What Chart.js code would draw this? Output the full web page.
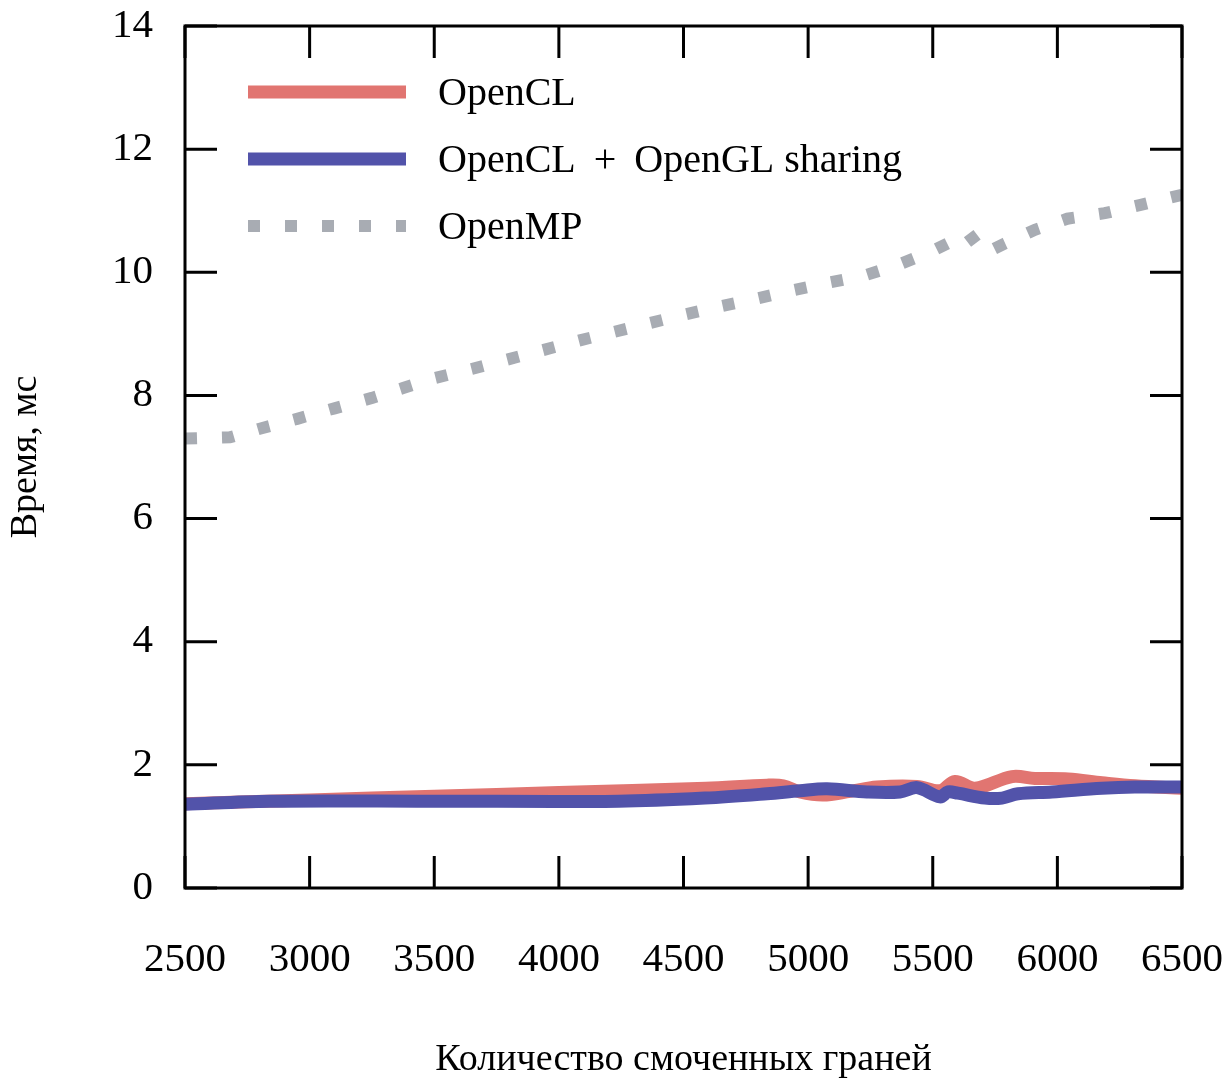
<!DOCTYPE html>
<html>
<head>
<meta charset="utf-8">
<script src="https://cdn.jsdelivr.net/npm/chart.js@4.4.1/dist/chart.umd.min.js"></script>
<style>
  html, body { margin: 0; padding: 0; background: #fff; }
  #wrap { width: 1229px; height: 1082px; }
</style>
</head>
<body>
<div id="wrap"><canvas id="timeChart" width="1229" height="1082"></canvas></div>
<script>
// series names
const seriesNames = ['OpenCL', 'OpenCL + OpenGL sharing', 'OpenMP'];

// OpenCL
const clX = [2500, 3000, 3500, 4000, 4590, 4835, 4900, 4967, 5060, 5168, 5276, 5437, 5530, 5589, 5670, 5818, 5910, 6043, 6179, 6311, 6500];
const clY = [1.37, 1.43, 1.49, 1.55, 1.62, 1.67, 1.66, 1.56, 1.51, 1.57, 1.64, 1.65, 1.58, 1.73, 1.62, 1.81, 1.78, 1.77, 1.71, 1.66, 1.62];

// OpenCL + OpenGL sharing
const shX = [2500, 2840, 3500, 4240, 4586, 4835, 4967, 5076, 5236, 5369, 5437, 5529, 5561, 5601, 5710, 5778, 5842, 5978, 6179, 6311, 6500];
const shY = [1.36, 1.41, 1.41, 1.41, 1.46, 1.53, 1.58, 1.61, 1.56, 1.56, 1.63, 1.48, 1.56, 1.54, 1.46, 1.46, 1.53, 1.56, 1.62, 1.64, 1.64];

// OpenMP
const mpX = [2500, 2680, 2800, 2950, 3100, 3250, 3375, 3500, 3650, 3800, 3940, 4080, 4220, 4360, 4500, 4650, 4800, 4940, 5080, 5220, 5360, 5490, 5600, 5640, 5705, 5790, 5910, 6040, 6190, 6330, 6500];
const mpY = [7.30, 7.32, 7.46, 7.62, 7.79, 7.96, 8.12, 8.28, 8.43, 8.59, 8.74, 8.89, 9.03, 9.17, 9.31, 9.45, 9.58, 9.71, 9.83, 9.94, 10.12, 10.33, 10.55, 10.65, 10.30, 10.47, 10.69, 10.87, 10.96, 11.09, 11.26];

const xTicks = [2500, 3000, 3500, 4000, 4500, 5000, 5500, 6000, 6500];
const yTicks = [0, 2, 4, 6, 8, 10, 12, 14];

const xTitle = 'Количество смоченных граней';
const yTitle = 'Время, мс';

const toPoints = (xs, ys) => xs.map((x, i) => ({ x: x, y: ys[i] }));

const FONT = '"Liberation Serif", "DejaVu Serif", serif';

// inward ticks on all four sides + frame + legend inside the plot
const frameTicks = {
    id: 'frameTicks',
    afterDraw(chart) {
        const ctx = chart.ctx;
        const { left, right, top, bottom } = chart.chartArea;
        const xs = chart.scales.x, ys = chart.scales.y;
        const len = 32;
        ctx.save();
        ctx.strokeStyle = '#000';
        ctx.lineWidth = 3;
        ctx.beginPath();
        xTicks.forEach(v => {
            const px = xs.getPixelForValue(v);
            ctx.moveTo(px, bottom); ctx.lineTo(px, bottom - len);
            ctx.moveTo(px, top); ctx.lineTo(px, top + len);
        });
        yTicks.forEach(v => {
            const py = ys.getPixelForValue(v);
            ctx.moveTo(left, py); ctx.lineTo(left + len, py);
            ctx.moveTo(right, py); ctx.lineTo(right - len, py);
        });
        ctx.stroke();
        ctx.strokeRect(left, top, right - left, bottom - top);

        // legend
        const lx0 = left + 63, lx1 = left + 221, tx = left + 253;
        ctx.font = '40px ' + FONT;
        ctx.textBaseline = 'middle';
        ctx.fillStyle = '#000';
        chart.data.datasets.forEach((ds, i) => {
            const ly = top + 66 + i * 67;
            ctx.save();
            ctx.strokeStyle = ds.borderColor;
            ctx.lineWidth = ds.borderWidth;
            ctx.lineCap = 'butt';
            ctx.setLineDash(ds.borderDash || []);
            ctx.beginPath();
            ctx.moveTo(lx0, ly); ctx.lineTo(lx1, ly);
            ctx.stroke();
            ctx.restore();
            ctx.fillText(ds.label.replace(' + ', ' \u2009+\u2009 '), tx, ly + 2);
        });
        ctx.restore();
    }
};

new Chart(document.getElementById('timeChart'), {
    type: 'line',
    data: {
        datasets: [
            {
                label: seriesNames[0],
                data: toPoints(clX, clY),
                borderColor: '#e17571',
                borderWidth: 13,
                pointRadius: 0,
                tension: 0.35,
                order: 2
            },
            {
                label: seriesNames[1],
                data: toPoints(shX, shY),
                borderColor: '#5253aa',
                borderWidth: 13,
                pointRadius: 0,
                tension: 0.35,
                order: 1
            },
            {
                label: seriesNames[2],
                data: toPoints(mpX, mpY),
                borderColor: '#a8acb3',
                borderWidth: 12,
                borderDash: [12, 25],
                borderCapStyle: 'butt',
                pointRadius: 0,
                tension: 0,
                order: 3
            }
        ]
    },
    options: {
        responsive: false,
        animation: false,
        layout: { padding: { left: 0, right: 47, top: 26, bottom: 0 } },
        plugins: { legend: { display: false }, tooltip: { enabled: false } },
        scales: {
            x: {
                type: 'linear',
                min: 2500, max: 6500,
                afterBuildTicks: s => { s.ticks = xTicks.map(v => ({ value: v })); },
                afterFit: s => { s.height = 1082 - 888; s.paddingLeft = 0; s.paddingRight = 0; },
                grid: { display: false, drawTicks: false },
                border: { display: false },
                ticks: { color: '#000', font: { family: FONT, size: 41 }, padding: 48, maxRotation: 0, callback: v => String(v) },
                title: { display: true, text: xTitle, color: '#000', font: { family: FONT, size: 38 }, padding: { top: 40, bottom: -1 } }
            },
            y: {
                min: 0, max: 14,
                afterBuildTicks: s => { s.ticks = yTicks.map(v => ({ value: v })); },
                afterFit: s => { s.width = 185; s.paddingTop = 0; s.paddingBottom = 0; },
                grid: { display: false, drawTicks: false },
                border: { display: false },
                ticks: { color: '#000', font: { family: FONT, size: 41 }, padding: 32, callback: v => String(v) },
                title: { display: true, text: yTitle, color: '#000', font: { family: FONT, size: 38 }, padding: { top: 3, bottom: 0 } }
            }
        }
    },
    plugins: [frameTicks]
});
</script>
</body>
</html>
